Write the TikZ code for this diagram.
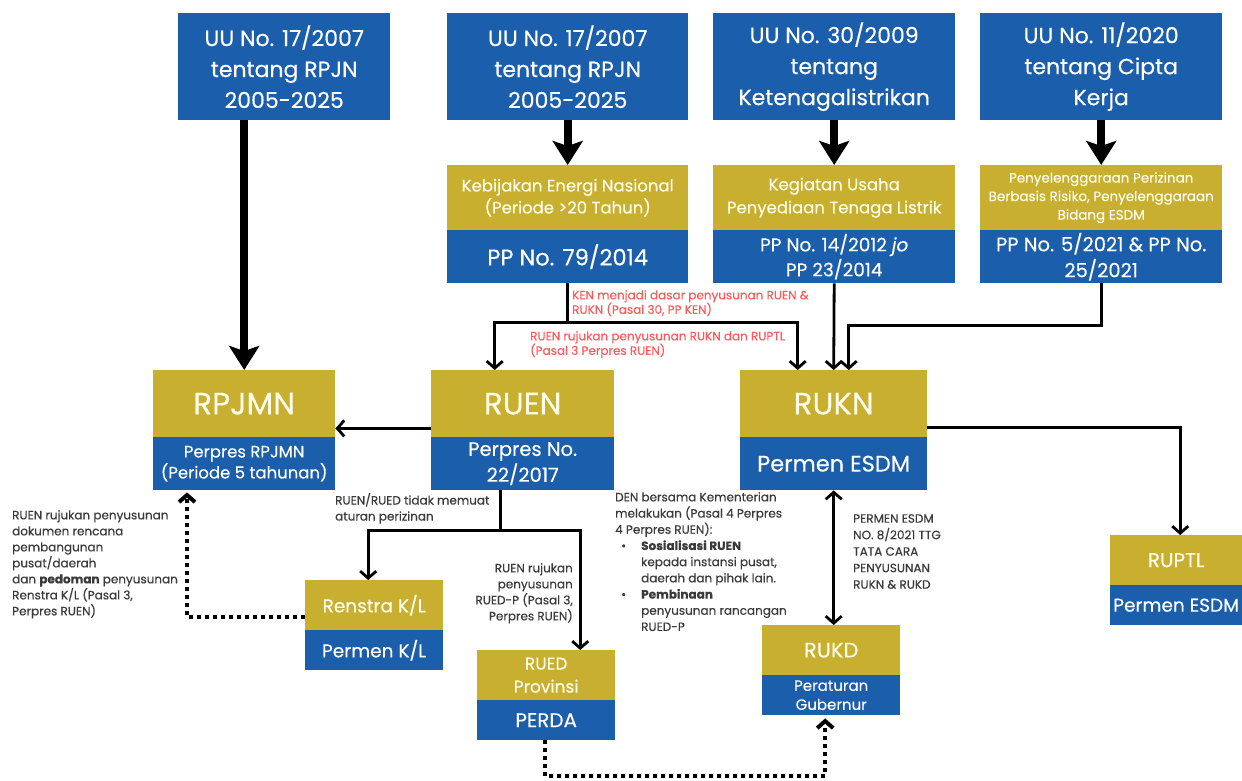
\documentclass[tikz,border=0pt]{standalone}
\usepackage{fontspec}
\setmainfont{Poppins}[FakeBold=0.3]
\usetikzlibrary{arrows.meta}
\definecolor{bblue}{HTML}{1B5EAB}
\definecolor{bgold}{HTML}{C8AF30}
\definecolor{redtxt}{HTML}{FF5A5A}
\definecolor{gtxt}{HTML}{3A3A3A}
\begin{document}
\begin{tikzpicture}[x=1pt,y=-1pt,
 box/.style={anchor=north west, inner sep=0pt, align=center, text=white},
 bluebox/.style={box, fill=bblue},
 goldbox/.style={box, fill=bgold, text=white!92!yellow},
 bigarrow/.style={line width=8pt, -{Stealth[length=24pt,width=30pt,inset=5pt]}},
 conn/.style={line width=2.8pt, -{Straight Barb[length=7pt,width=16pt]}},
 dconn/.style={line width=2.8pt, {Straight Barb[length=7pt,width=16pt]}-{Straight Barb[length=7pt,width=16pt]}},
 dotline/.style={line width=4pt, dash pattern=on 4pt off 4pt, -{Straight Barb[length=7pt,width=16pt]}},
 note/.style={anchor=north west, inner sep=0pt, align=left, text=gtxt, font=\fontsize{12}{16}\selectfont},
 rnote/.style={anchor=north west, inner sep=0pt, align=left, text=redtxt, font=\fontsize{12}{14.5}\selectfont},
]
\useasboundingbox[fill=white] (0,0) rectangle (1242,780);

% top row
\node[bluebox, minimum width=212pt, minimum height=107pt, font=\fontsize{22}{31}\selectfont] (t1) at (178,13) {UU No. 17/2007\\tentang RPJN\\2005-2025};
\node[bluebox, minimum width=241pt, minimum height=107pt, font=\fontsize{22}{31}\selectfont] (t2) at (447,13) {UU No. 17/2007\\tentang RPJN\\2005-2025};
\node[bluebox, minimum width=242pt, minimum height=107pt, font=\fontsize{22}{31}\selectfont] (t3) at (713,13) {UU No. 30/2009\\tentang\\Ketenagalistrikan};
\node[bluebox, minimum width=242pt, minimum height=107pt, font=\fontsize{22}{31}\selectfont] (t4) at (980,13) {UU No. 11/2020\\tentang Cipta\\Kerja};

% second row
\node[goldbox, minimum width=241pt, minimum height=65pt, font=\fontsize{16.5}{22}\selectfont] (kenT) at (447,165) {Kebijakan Energi Nasional\\(Periode >20 Tahun)};
\node[bluebox, minimum width=241pt, minimum height=53pt, font=\fontsize{22.5}{26}\selectfont] (kenB) at (447,230) {PP No. 79/2014};
\node[goldbox, minimum width=242pt, minimum height=65pt, font=\fontsize{16.5}{23}\selectfont] (k3T) at (713,165) {Kegiatan Usaha\\Penyediaan Tenaga Listrik};
\node[bluebox, minimum width=242pt, minimum height=53pt, font=\fontsize{18.5}{25}\selectfont] (k3B) at (713,230) {PP No. 14/2012 \textit{jo}\\PP 23/2014};
\node[goldbox, minimum width=242pt, minimum height=65pt, font=\fontsize{13.5}{18.5}\selectfont] (k4T) at (980,165) {Penyelenggaraan Perizinan\\Berbasis Risiko, Penyelenggaraan\\Bidang ESDM};
\node[bluebox, minimum width=242pt, minimum height=53pt, font=\fontsize{19.5}{26}\selectfont] (k4B) at (980,230) {PP No. 5/2021 \& PP No.\\25/2021};

% third row
\node[goldbox, minimum width=182pt, minimum height=67pt, font=\fontsize{31}{34}\selectfont] (rpjmnT) at (153,370) {RPJMN};
\node[bluebox, minimum width=182pt, minimum height=53pt, font=\fontsize{16.5}{21}\selectfont] (rpjmnB) at (153,437) {Perpres RPJMN\\(Periode 5 tahunan)};
\node[goldbox, minimum width=183pt, minimum height=67pt, font=\fontsize{31}{34}\selectfont] (ruenT) at (431,370) {RUEN};
\node[bluebox, minimum width=183pt, minimum height=53pt, font=\fontsize{19.5}{26}\selectfont] (ruenB) at (431,437) {Perpres No.\\22/2017};
\node[goldbox, minimum width=187pt, minimum height=67pt, font=\fontsize{31}{34}\selectfont] (ruknT) at (740,370) {RUKN};
\node[bluebox, minimum width=187pt, minimum height=53pt, font=\fontsize{22.5}{26}\selectfont] (ruknB) at (740,437) {Permen ESDM};

% lower boxes
\node[goldbox, minimum width=132pt, minimum height=50pt, font=\fontsize{20}{22}\selectfont] (ruptlT) at (1110,535) {RUPTL};
\node[bluebox, minimum width=132pt, minimum height=40pt, font=\fontsize{18.5}{22}\selectfont] (ruptlB) at (1110,585) {Permen ESDM};
\node[goldbox, minimum width=138pt, minimum height=50pt, font=\fontsize{18.5}{22}\selectfont] (renT) at (305,580) {Renstra K/L};
\node[bluebox, minimum width=138pt, minimum height=40pt, font=\fontsize{18.5}{22}\selectfont] (renB) at (305,630) {Permen K/L};
\node[goldbox, minimum width=138pt, minimum height=50pt, font=\fontsize{17}{23}\selectfont] (ruedT) at (477,650) {RUED\\Provinsi};
\node[bluebox, minimum width=138pt, minimum height=40pt, font=\fontsize{20}{22}\selectfont] (ruedB) at (477,700) {PERDA};
\node[goldbox, minimum width=138pt, minimum height=50pt, font=\fontsize{21}{22}\selectfont] (rukdT) at (762,625) {RUKD};
\node[bluebox, minimum width=138pt, minimum height=40pt, font=\fontsize{15}{19}\selectfont] (rukdB) at (762,675) {Peraturan\\Gubernur};

% thick arrows
\draw[bigarrow] (t1.south -| rpjmnT.north) -- (rpjmnT.north);
\draw[bigarrow] (t2.south) -- (kenT.north);
\draw[bigarrow] (t3.south) -- (k3T.north);
\draw[bigarrow] (t4.south) -- (k4T.north);

% thin connectors
\draw[line width=2.8pt] (kenB.south) -- ++(0,39) coordinate (j1);
\draw[conn] (j1) -| ([xshift=-28pt]ruenT.north);
\draw[conn] (j1) -| ([xshift=-36pt]ruknT.north);
\draw[conn] (k3B.south) -- (ruknT.north);
\draw[conn] (k4B.south) -- ++(0,42) -| ([xshift=15pt]ruknT.north);
\draw[conn] ([yshift=9pt]ruenT.south west) -- ([yshift=9pt]rpjmnT.south east);
\draw[conn] ([yshift=10pt]ruknT.south east) -| ([xshift=4pt]ruptlT.north);
\draw[line width=2.8pt] ([xshift=-22pt]ruenB.south) -- ++(0,40) coordinate (j2);
\draw[conn] (j2) -| ([xshift=-6pt]renT.north);
\draw[conn] (j2) -| ([xshift=34pt]ruedT.north);
\draw[dconn] (ruknB.south) -- (rukdT.north -| ruknB.south);

% dotted
\draw[dotline] ([yshift=13pt]renT.south west) -| ([xshift=34pt,yshift=-2pt]rpjmnB.south west);
\draw[dotline] ([xshift=-1pt]ruedB.south) -- ++(0,36) -| ([xshift=-6pt,yshift=-3pt]rukdB.south);

% notes
\node[note] (n1) at (12,510) {RUEN rujukan penyusunan\\dokumen rencana\\pembangunan\\pusat/daerah\\dan \textbf{pedoman} penyusunan\\Renstra K/L (Pasal 3,\\Perpres RUEN)};
\node[rnote] (r1) at (572,290) {KEN menjadi dasar penyusunan RUEN \&\\RUKN (Pasal 30, PP KEN)};
\node[rnote] (r2) at (530,331) {RUEN rujukan penyusunan RUKN dan RUPTL\\(Pasal 3 Perpres RUEN)};
\node[note] (n2) at (335,493) {RUEN/RUED tidak memuat\\aturan perizinan};
\node[note, anchor=north east, align=right] (n3) at (573,563) {RUEN rujukan\\penyusunan\\RUED-P (Pasal 3,\\Perpres RUEN)};
\node[note, font=\fontsize{12}{16.2}\selectfont] (n4) at (615,492) {DEN bersama Kementerian\\melakukan (Pasal 4 Perpres\\4 Perpres RUEN):\\\hspace*{6pt}\makebox[20pt][l]{\textbullet}\textbf{Sosialisasi RUEN}\\\hspace*{26pt}kepada instansi pusat,\\\hspace*{26pt}daerah dan pihak lain.\\\hspace*{6pt}\makebox[20pt][l]{\textbullet}\textbf{Pembinaan}\\\hspace*{26pt}penyusunan rancangan\\\hspace*{26pt}RUED-P};
\node[note, font=\fontsize{12}{16.5}\selectfont] (n5) at (853,514) {PERMEN ESDM\\NO. 8/2021 TTG\\TATA CARA\\PENYUSUNAN\\RUKN \& RUKD};
\end{tikzpicture}
\end{document}
